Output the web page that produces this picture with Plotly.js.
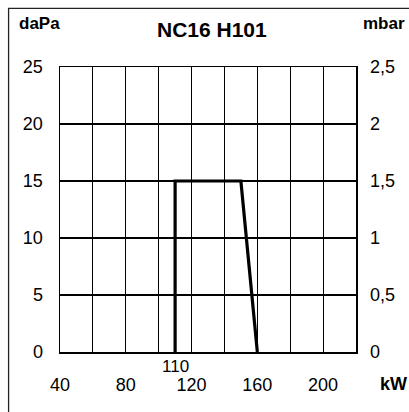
<!DOCTYPE html>
<html><head><meta charset="utf-8">
<script src="https://cdn.plot.ly/plotly-3.0.1.min.js"></script>
<style>html,body{margin:0;padding:0;background:#fff}#chart{width:409px;height:412px}</style>
</head><body><div id="chart"></div>
<script>
// Data
const powerKW = [110, 110, 150, 160];
const pressureDaPa = [0, 15, 15, 0];
const xTickVals = [40, 60, 80, 100, 120, 140, 160, 180, 200, 220];
const xTickText = ['40', '', '80', '', '120', '', '160', '', '200', ''];
const yTickVals = [0, 5, 10, 15, 20, 25];
const yTickText = ['0', '5', '10', '15', '20', '25'];
const y2TickVals = [0, 0.5, 1, 1.5, 2, 2.5];
const y2TickText = ['0', '0,5', '1', '1,5', '2', '2,5'];
const minPowerLabel = 110;

const font = 'Liberation Sans, Arial, sans-serif';
const trace = {
  x: powerKW, y: pressureDaPa, type: 'scatter', mode: 'lines',
  line: {color: '#000', width: 3.2}, hoverinfo: 'skip', showlegend: false
};
const dummy = {x: [40], y: [0], yaxis: 'y2', type: 'scatter', mode: 'markers',
  marker: {opacity: 0}, hoverinfo: 'skip', showlegend: false};

const layout = {
  width: 409, height: 412,
  margin: {l: 60, r: 53, t: 67, b: 60, pad: 0},
  paper_bgcolor: '#fff', plot_bgcolor: '#fff',
  font: {family: font, size: 18, color: '#000'},
  xaxis: {range: [40, 220], tickvals: xTickVals, ticktext: xTickText,
    showgrid: true, gridcolor: '#000', gridwidth: 1.2, zeroline: false,
    showline: true, linecolor: '#000', linewidth: 1.5, mirror: true,
    ticks: '', ticklabelstandoff: 16, tickfont: {size: 18}, fixedrange: true},
  yaxis: {range: [0, 25], tickvals: yTickVals, ticktext: yTickText,
    showgrid: true, gridcolor: '#000', gridwidth: 1.2, zeroline: false,
    showline: true, linecolor: '#000', linewidth: 1.5, mirror: true,
    ticks: '', ticklabelstandoff: 12, tickfont: {size: 18}, fixedrange: true},
  yaxis2: {range: [0, 2.5], tickvals: y2TickVals, ticktext: y2TickText,
    overlaying: 'y', side: 'right', showgrid: false, zeroline: false, showline: false,
    ticks: '', ticklabelstandoff: 13, tickfont: {size: 18}, fixedrange: true},
  annotations: [
    {text: '<b>NC16 H101</b>', xref: 'paper', yref: 'paper', x: 0.5135, y: 1.133,
      xanchor: 'center', yanchor: 'middle', showarrow: false, font: {size: 21}},
    {text: '<b>daPa</b>', xref: 'paper', yref: 'paper', x: -0.0676, y: 1.152,
      xanchor: 'center', yanchor: 'middle', showarrow: false, font: {size: 17}},
    {text: '<b>mbar</b>', xref: 'paper', yref: 'paper', x: 1.0946, y: 1.152,
      xanchor: 'center', yanchor: 'middle', showarrow: false, font: {size: 17}},
    {text: '<b>kW</b>', xref: 'paper', yref: 'paper', x: 1.125, y: -0.113,
      xanchor: 'center', yanchor: 'middle', showarrow: false, font: {size: 18}},
    {text: String(minPowerLabel), xref: 'x', yref: 'paper', x: minPowerLabel, y: -0.05,
      xanchor: 'center', yanchor: 'middle', showarrow: false, font: {size: 17}}
  ],
  shapes: [
    {type: 'rect', xref: 'paper', yref: 'paper', x0: -0.1737, x1: 1.3, y0: -0.5, y1: 1.206,
      line: {color: '#222', width: 1.3}, fillcolor: 'rgba(0,0,0,0)', layer: 'below'}
  ]
};
Plotly.newPlot('chart', [trace, dummy], layout, {staticPlot: true, displayModeBar: false});
</script></body></html>
